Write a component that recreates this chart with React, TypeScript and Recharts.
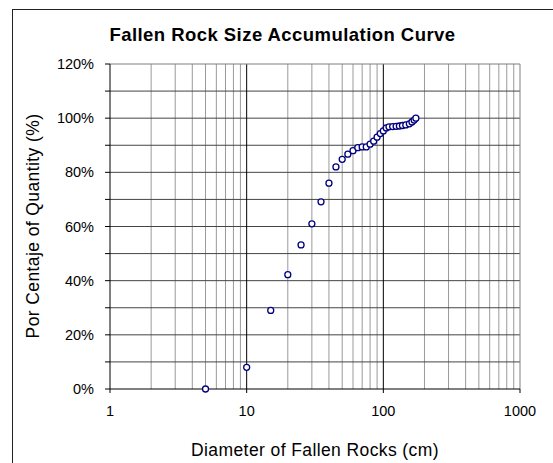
import { ScatterChart, Scatter, XAxis, YAxis, ReferenceLine } from "recharts";

// rock diameter (cm) vs cumulative share of rocks (%)
const diameters = [
  5, 10, 15, 20, 25, 30, 35, 40, 45, 50, 55, 60, 65, 70, 75, 80, 85, 90, 95, 100,
  105, 110, 117, 124, 131, 138, 146, 155, 162, 168, 173,
];
const percents = [
  0, 8, 29, 42.2, 53.2, 61, 69.1, 76, 82, 84.8, 86.7, 88, 89.1, 89.4, 89.4, 90.4, 91.5, 93, 94.3, 95.3,
  96.4, 96.8, 96.9, 97, 97.1, 97.3, 97.5, 97.9, 98.6, 99.3, 100,
];

const xTicks = [1, 10, 100, 1000];
const xMajorGrid = [10, 100];
const xMinorGrid = [2, 3, 4, 5, 6, 7, 8, 9, 20, 30, 40, 50, 60, 70, 80, 90, 200, 300, 400, 500, 600, 700, 800, 900];
const yTicks = [0, 10, 20, 30, 40, 50, 60, 70, 80, 90, 100, 110, 120];
const yGrid = [10, 20, 30, 40, 50, 60, 70, 80, 90, 100, 110];

const points = diameters.map((d, i) => ({ d, p: percents[i] }));

const FONT = '"Liberation Sans", Arial, sans-serif';
const tickStyle = { fill: "#000", fontSize: 14.5, fontFamily: FONT };

export default function App() {
  return (
    <div style={{ position: "absolute", left: 0, top: 0, width: 553, height: 463, background: "#fff", overflow: "hidden", fontFamily: FONT }}>
      <div style={{ position: "absolute", left: 12, top: 9, width: 600, height: 500, border: "1px solid #222" }} />
      <div
        style={{
          position: "absolute", left: 12, top: 25, width: 541, textAlign: "center",
          fontSize: 18.5, fontWeight: "bold", lineHeight: "19px", letterSpacing: 0.45,
        }}
      >
        Fallen Rock Size Accumulation Curve
      </div>
      <div
        style={{
          position: "absolute", left: 110, top: 441, width: 410, textAlign: "center",
          fontSize: 17.5, lineHeight: "18px", letterSpacing: 0.4,
        }}
      >
        Diameter of Fallen Rocks (cm)
      </div>
      <div
        style={{
          position: "absolute", left: 33 - 150, top: 226 - 9, width: 300, textAlign: "center",
          fontSize: 17.5, lineHeight: "18px", letterSpacing: 0.4, transform: "rotate(-90deg)",
        }}
      >
        Por Centaje of Quantity (%)
      </div>
      <div style={{ position: "absolute", left: 0, top: 0 }}>
        <ScatterChart width={553} height={463} margin={{ top: 64, right: 33, left: 40, bottom: 34 }}>
          <XAxis
            dataKey="d"
            type="number"
            scale="log"
            domain={[1, 1000]}
            ticks={xTicks}
            allowDataOverflow
            stroke="#000"
            tickSize={4}
            tickMargin={13}
            height={40}
            tick={tickStyle}
          />
          <YAxis
            dataKey="p"
            type="number"
            domain={[0, 120]}
            ticks={yTicks}
            interval={0}
            tickFormatter={(v) => (v % 20 === 0 ? `${v}%` : "")}
            stroke="#000"
            tickSize={5}
            tickMargin={11}
            width={70}
            tick={tickStyle}
          />
          {xMinorGrid.map((v) => (
            <ReferenceLine key={`xm${v}`} x={v} stroke="#9a9a9a" strokeWidth={1} />
          ))}
          {yGrid.map((v) => (
            <ReferenceLine key={`y${v}`} y={v} stroke="#444" strokeWidth={1} />
          ))}
          {xMajorGrid.map((v) => (
            <ReferenceLine key={`xM${v}`} x={v} stroke="#000" strokeWidth={1} />
          ))}
          <ReferenceLine y={120} stroke="#808080" />
          <ReferenceLine x={1000} stroke="#808080" />
          <Scatter
            data={points}
            isAnimationActive={false}
            shape={(props: any) => (
              <circle cx={props.cx} cy={props.cy} r={3} fill="#fff" stroke="#000080" strokeWidth={1.3} />
            )}
          />
        </ScatterChart>
      </div>
    </div>
  );
}
